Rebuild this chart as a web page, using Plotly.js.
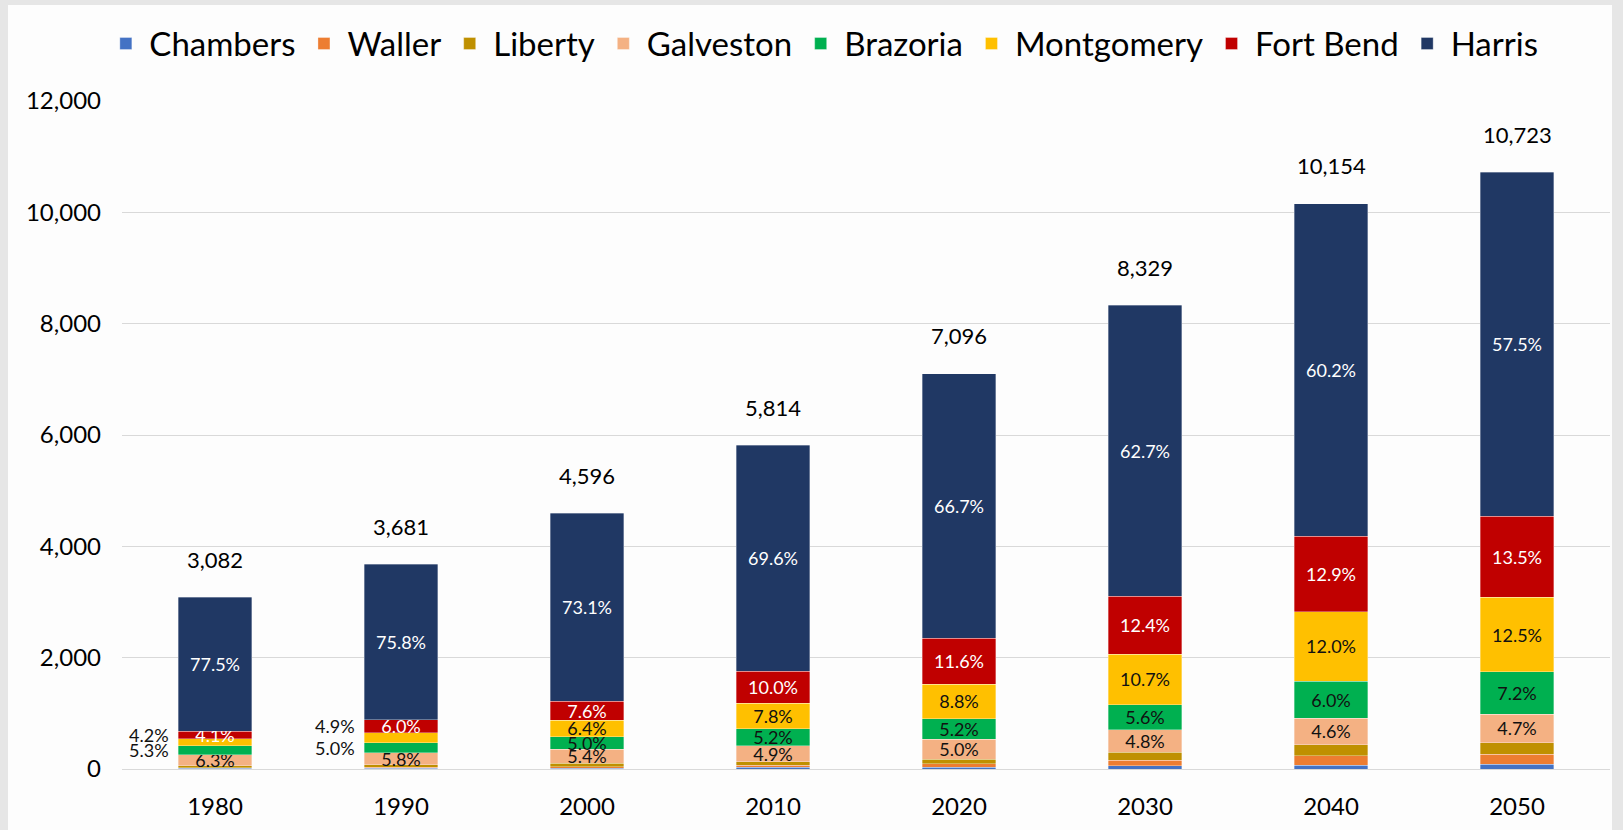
<!DOCTYPE html>
<html>
<head>
<meta charset="utf-8">
<script src="https://cdn.plot.ly/plotly-3.0.1.min.js"></script>
<style>
  html, body { margin: 0; padding: 0; background: #e6e6e6; width: 1623px; height: 830px; overflow: hidden; }
  #chart { position: absolute; left: 8px; top: 5px; width: 1604px; height: 825px; background: #fdfdfd; }
</style>
</head>
<body>
<div id="chart"></div>
<script>
// Years and printed totals (thousands)
const years = ['1980', '1990', '2000', '2010', '2020', '2030', '2040', '2050'];
const totals = [3082, 3681, 4596, 5814, 7096, 8329, 10154, 10723];

// Population by county (thousands), as drawn
const chambers   = [12, 14, 18, 36, 33, 59, 66, 81];
const waller     = [14, 18, 24, 34, 57, 102, 176, 183];
const liberty    = [34, 40, 60, 62, 86, 140, 198, 212];
const galveston  = [198, 222, 252, 288, 359, 403, 469, 506];
const brazoria   = [162, 180, 228, 306, 367, 454, 667, 763];
const montgomery = [126, 180, 294, 456, 623, 902, 1253, 1341];
const fortBend   = [132, 228, 342, 576, 821, 1041, 1349, 1459];
const harris     = [2404, 2799, 3378, 4056, 4750, 5228, 5976, 6178];

// Printed share labels (% of total)
const galvestonPct  = [6.3, 5.8, 5.4, 4.9, 5.0, 4.8, 4.6, 4.7];
const brazoriaPct   = [5.3, 5.0, 5.0, 5.2, 5.2, 5.6, 6.0, 7.2];
const montgomeryPct = [4.2, 4.9, 6.4, 7.8, 8.8, 10.7, 12.0, 12.5];
const fortBendPct   = [4.1, 6.0, 7.6, 10.0, 11.6, 12.4, 12.9, 13.5];
const harrisPct     = [77.5, 75.8, 73.1, 69.6, 66.7, 62.7, 60.2, 57.5];

const seriesNames  = ['Chambers', 'Waller', 'Liberty', 'Galveston', 'Brazoria', 'Montgomery', 'Fort Bend', 'Harris'];
const seriesValues = [chambers, waller, liberty, galveston, brazoria, montgomery, fortBend, harris];
const seriesPct    = [null, null, null, galvestonPct, brazoriaPct, montgomeryPct, fortBendPct, harrisPct];
const seriesColors = ['#4472C4', '#ED7D31', '#BF9000', '#F4B183', '#00B050', '#FFC000', '#C00000', '#203864'];
const labelColors  = [null, null, null, '#111111', '#111111', '#111111', '#ffffff', '#ffffff'];
// Labels drawn beside the bar (left) instead of inside: series -> years
const sideLabels = { 'Brazoria': ['1980', '1990'], 'Montgomery': ['1980', '1990'] };

const FONT = 'Lato, "Noto Sans", sans-serif';

const traces = seriesNames.map((name, s) => {
  const side = sideLabels[name] || [];
  const pct = seriesPct[s];
  return {
    type: 'bar',
    name: name,
    x: years,
    y: seriesValues[s],
    marker: { color: seriesColors[s], line: { color: 'rgba(255,255,255,0.55)', width: 0.6 } },
    text: pct ? pct.map((p, i) => side.includes(years[i]) ? '' : p.toFixed(1) + '%') : null,
    textposition: pct ? 'inside' : 'none',
    insidetextanchor: 'middle',
    textangle: 0,
    constraintext: 'none',
    cliponaxis: false,
    textfont: { family: FONT, size: 18, color: labelColors[s] || '#000' },
    hoverinfo: 'x+y+name'
  };
});

// cumulative bases to place side labels at segment mid-heights
function segMid(s, i) {
  let base = 0;
  for (let k = 0; k < s; k++) base += seriesValues[k][i];
  return base + seriesValues[s][i] / 2;
}

const annotations = [];
totals.forEach((t, i) => {
  annotations.push({
    x: i, y: t, text: t.toLocaleString('en-US'), showarrow: false,
    yshift: 38, yanchor: 'middle', font: { family: FONT, size: 22, color: '#000' }
  });
});
const fbIdx = seriesNames.indexOf('Fort Bend');
Object.keys(sideLabels).forEach(name => {
  const s = seriesNames.indexOf(name);
  sideLabels[name].forEach(yr => {
    const i = years.indexOf(yr);
    // Montgomery label sits level with Fort Bend, as in the original
    const yPos = name === 'Montgomery' ? segMid(fbIdx, i) : segMid(s, i);
    annotations.push({
      x: i, y: yPos, text: seriesPct[s][i].toFixed(1) + '%', showarrow: false,
      xanchor: 'right', yanchor: 'middle', xshift: -44,
      font: { family: FONT, size: 18, color: '#111111' }
    });
  });
});

const layout = {
  width: 1604, height: 825,
  barmode: 'stack',
  bargap: 0.605,
  paper_bgcolor: '#fdfdfd',
  plot_bgcolor: '#fdfdfd',
  margin: { l: 114, r: 2, t: 96, b: 61 },
  font: { family: FONT, color: '#000' },
  showlegend: true,
  legend: {
    orientation: 'h', x: 0.471, xanchor: 'center', y: 1.086, yanchor: 'middle',
    traceorder: 'normal', font: { family: FONT, size: 33, color: '#000' },
    itemwidth: 37,
    bgcolor: 'rgba(0,0,0,0)', itemclick: false
  },
  xaxis: {
    type: 'category', range: [-0.5, 7.5], autorange: false,
    showgrid: false, showline: true, linecolor: '#d9d9d9', linewidth: 1,
    ticks: '', ticklabelstandoff: 16,
    tickfont: { family: FONT, size: 24, color: '#000' },
    fixedrange: true
  },
  yaxis: {
    range: [0, 12000], autorange: false, dtick: 2000, tickformat: ',d',
    showgrid: true, gridcolor: '#d9d9d9', gridwidth: 1,
    zeroline: false, showline: false, ticks: '', ticklabelstandoff: 20,
    tickfont: { family: FONT, size: 24, color: '#000' },
    fixedrange: true
  },
  annotations: annotations
};

Plotly.newPlot('chart', traces, layout, { displayModeBar: false, staticPlot: true });
</script>
</body>
</html>
